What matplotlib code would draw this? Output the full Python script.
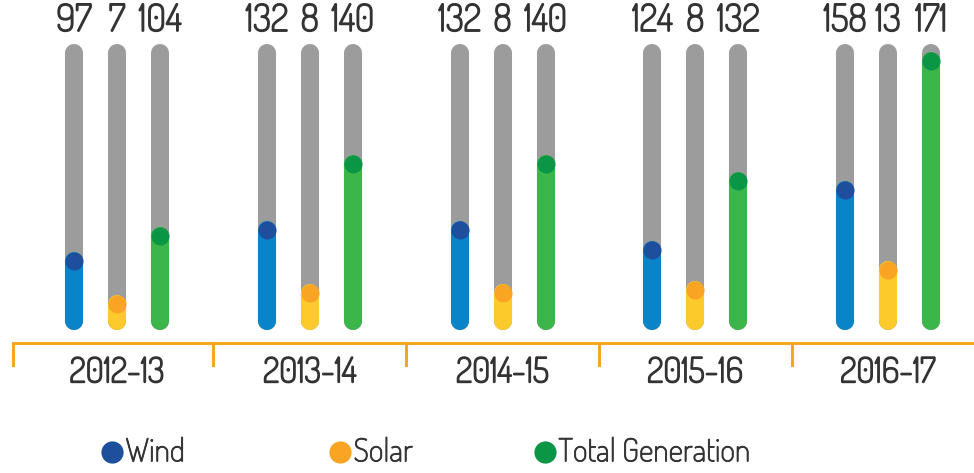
import matplotlib.pyplot as plt
import matplotlib.patheffects as pe

years = ['2012-13', '2013-14', '2014-15', '2015-16', '2016-17']
series = ['Wind', 'Solar', 'Total Generation']
wind = [97, 132, 132, 124, 158]
solar = [7, 8, 8, 8, 13]
total = [104, 140, 140, 132, 171]
# how far each coloured fill reaches up its grey track (share of track)
wind_fill = [0.24, 0.35, 0.35, 0.28, 0.49]
solar_fill = [0.09, 0.13, 0.13, 0.14, 0.21]
total_fill = [0.33, 0.58, 0.58, 0.52, 0.94]

values = [wind, solar, total]
fills = [wind_fill, solar_fill, total_fill]
body = ['#0a84c9', '#fdca2c', '#3cb54b']
cap = ['#1d4f9c', '#f9a423', '#0b9646']
grey = '#9c9c9c'
orange = '#f5a623'
txt = '#333333'
font = ['Dosis', 'DejaVu Sans']
# Dosis is only installed in a light weight, so thicken it a little
heavy = [pe.withStroke(linewidth=1.1, foreground=txt)]
mid = [pe.withStroke(linewidth=0.6, foreground=txt)]

fig = plt.figure(figsize=(9.74, 4.73), dpi=100)
ax = fig.add_axes([0, 0, 1, 1])
ax.set_xlim(-0.607, 4.446)
ax.set_ylim(-0.5, 1.154)
ax.axis('off')

offsets = [-0.223, 0, 0.223]
lw = 13
r = 0.031  # round cap overhang in data units

for s in range(3):
    for i in range(len(years)):
        x = i + offsets[s]
        ax.plot([x, x], [r, 1 - r], color=grey, lw=lw, solid_capstyle='round', zorder=1)
        ax.plot([x, x], [r, fills[s][i]], color=body[s], lw=lw, solid_capstyle='round', zorder=2)
        ax.plot(x, fills[s][i], 'o', ms=13, color=cap[s], mec='none', zorder=3)
        ax.text(x, 1.08, str(values[s][i]), ha='center', va='center',
                fontsize=27, color=txt, family=font, path_effects=heavy)

# base line with group ticks
ax.plot([-0.54, 4.446], [-0.045, -0.045], color=orange, lw=2.2, zorder=1)
for t in [-0.54, 0.5, 1.5, 2.5, 3.5]:
    ax.plot([t, t], [-0.045, -0.122], color=orange, lw=2.2)

for i, y in enumerate(years):
    ax.text(i, -0.15, y, ha='center', va='center', fontsize=25,
            color=txt, family=font, path_effects=heavy)

# legend
leg_x = [-0.026, 1.157, 2.22]
for s in range(3):
    ax.plot(leg_x[s], -0.427, 'o', ms=16, color=cap[s], mec='none')
    ax.text(leg_x[s] + 0.07, -0.43, series[s], ha='left', va='center',
            fontsize=23, color=txt, family=font, path_effects=mid)

fig.savefig('out.png', dpi=100)
